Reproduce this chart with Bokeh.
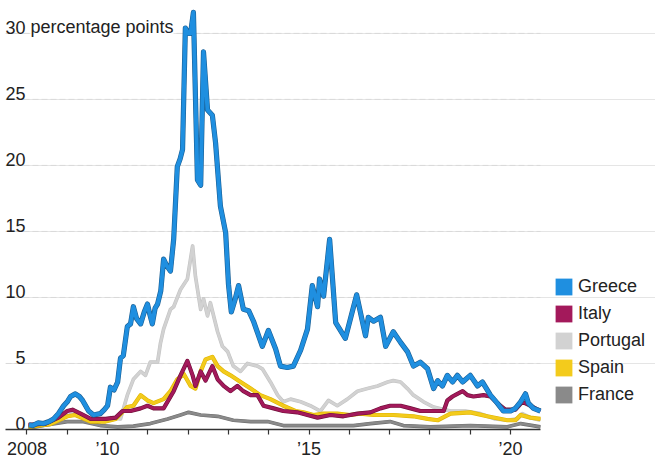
from bokeh.plotting import figure
from bokeh.models import Range1d, FixedTicker, Legend, LegendItem
from bokeh.core.properties import value
from bokeh.embed import file_html
from bokeh.resources import INLINE

FONT = "Liberation Sans"
NAN = float("nan")

# ---------------- data (decimal years, percentage points) ----------------
greece_t = [2008.05, 2008.14, 2008.28, 2008.41, 2008.55, 2008.66, 2008.78, 2008.91, 2009.00, 2009.08,
            2009.20, 2009.30, 2009.38, 2009.53, 2009.65, 2009.82, 2009.92, 2010.00, 2010.07, 2010.16,
            2010.25, 2010.32, 2010.39, 2010.49, 2010.57, 2010.64, 2010.72, 2010.82, 2010.91, 2010.99,
            2011.05, 2011.11, 2011.18, 2011.24, 2011.32, 2011.39, 2011.47, 2011.56, 2011.64, 2011.73,
            2011.80, 2011.86, 2011.93, 2012.00, 2012.06, 2012.13, 2012.23, 2012.31, 2012.38, 2012.48,
            2012.60, 2012.68, 2012.80, 2012.93, 2013.00, 2013.07, 2013.16, 2013.25, 2013.37, 2013.50,
            2013.62, 2013.84, 2013.99, 2014.17, 2014.29, 2014.46, 2014.61, 2014.79, 2014.96, 2015.08,
            2015.21, 2015.26, 2015.36, 2015.51, 2015.66, 2015.90, 2016.18, 2016.30, 2016.40, 2016.47,
            2016.60, 2016.77, 2016.90, 2017.09, 2017.27, 2017.44, 2017.59, 2017.76, 2017.94, 2018.09,
            2018.19, 2018.31, 2018.43, 2018.56, 2018.68, 2018.81, 2019.00, 2019.18, 2019.30, 2019.50,
            2019.67, 2019.82, 2020.00, 2020.12, 2020.25, 2020.37, 2020.44, 2020.57, 2020.74]
greece_v = [0.35, 0.3, 0.5, 0.45, 0.6, 0.8, 1.2, 1.8, 2.1, 2.5,
            2.7, 2.5, 2.2, 1.4, 1.1, 1.2, 1.5, 1.8, 3.2, 3.0,
            3.6, 5.4, 5.6, 7.8, 8.0, 9.3, 8.4, 8.0, 8.9, 9.5,
            8.7, 8.0, 9.2, 9.5, 10.5, 12.9, 12.4, 12.0, 14.4, 19.9,
            20.5, 21.2, 30.4, 30.0, 30.0, 31.6, 18.9, 18.5, 28.6, 24.2,
            23.8, 21.7, 16.9, 14.9, 11.0, 8.9, 9.8, 10.9, 9.1, 9.0,
            8.2, 6.3, 7.5, 6.1, 4.8, 4.7, 4.8, 6.0, 7.6, 10.9,
            9.3, 11.4, 10.1, 14.4, 8.1, 6.9, 10.2, 8.5, 7.1, 8.5,
            8.2, 8.5, 6.3, 7.4, 6.6, 5.9, 4.8, 5.1, 4.6, 3.1,
            3.7, 3.3, 4.1, 3.6, 4.1, 3.6, 4.1, 3.3, 3.6, 2.6,
            2.0, 1.4, 1.4, 1.6, 2.1, 2.7, 2.0, 1.6, 1.4]

italy_t = [2008.04, 2008.46, 2008.78, 2009.00, 2009.13, 2009.33, 2009.58, 2009.95, 2010.20, 2010.37,
           2010.57, 2010.82, 2010.99, 2011.14, 2011.39, 2011.64, 2011.81, 2011.98, 2012.11, 2012.18,
           2012.31, 2012.43, 2012.60, 2012.73, 2012.88, 2013.05, 2013.22, 2013.37, 2013.55, 2013.72,
           2013.87, 2014.12, 2014.36, 2014.71, 2014.96, 2015.21, 2015.53, 2015.85, 2016.20, 2016.52,
           2016.77, 2017.01, 2017.27, 2017.52, 2017.76, 2018.09, 2018.34, 2018.43, 2018.56, 2018.68,
           2018.81, 2018.93, 2019.08, 2019.33, 2019.50, 2019.67, 2019.87, 2020.12, 2020.29, 2020.49,
           2020.74]
italy_v = [0.35, 0.45, 0.9, 1.4, 1.5, 1.2, 0.8, 0.8, 0.9, 1.4,
           1.4, 1.6, 1.8, 1.6, 1.6, 2.9, 4.1, 5.2, 4.1, 3.3,
           4.4, 3.7, 4.8, 3.8, 3.3, 2.9, 3.3, 2.9, 2.6, 2.6,
           1.8, 1.6, 1.4, 1.3, 1.1, 0.9, 1.1, 1.0, 1.2, 1.3,
           1.6, 1.8, 1.8, 1.6, 1.4, 1.4, 1.4, 2.2, 2.5, 2.7,
           2.9, 2.6, 2.5, 2.6, 2.5, 2.0, 1.5, 1.5, 2.1, 1.8,
           1.4]

portugal_t = [2008.04, 2008.58, 2008.91, 2009.20, 2009.53, 2009.82, 2010.07, 2010.32, 2010.49, 2010.64,
              2010.82, 2010.94, 2011.06, 2011.24, 2011.31, 2011.39, 2011.56, 2011.64, 2011.81, 2011.98,
              2012.11, 2012.18, 2012.31, 2012.38, 2012.48, 2012.55, 2012.73, 2012.85, 2012.98, 2013.12,
              2013.30, 2013.47, 2013.72, 2013.84, 2014.04, 2014.22, 2014.36, 2014.54, 2014.79, 2015.03,
              2015.28, 2015.48, 2015.70, 2015.95, 2016.20, 2016.45, 2016.70, 2016.95, 2017.09, 2017.27,
              2017.44, 2017.59, 2017.84, 2018.09, 2018.51, 2018.88, 2019.25, 2019.62, 2019.92, 2020.17,
              2020.29, 2020.49, 2020.74]
portugal_v = [0.3, 0.4, 0.9, 1.3, 0.8, 0.6, 0.9, 0.8, 2.6, 3.8,
              4.4, 4.1, 5.1, 5.1, 6.5, 7.6, 9.1, 9.3, 10.6, 11.4,
              13.9, 11.6, 9.1, 9.9, 8.6, 9.6, 7.4, 6.3, 5.9, 4.8,
              4.4, 5.0, 4.8, 4.6, 3.6, 2.6, 2.1, 2.3, 2.1, 1.8,
              1.4, 2.2, 1.8, 2.3, 2.9, 3.1, 3.3, 3.6, 3.7, 3.6,
              3.1, 2.6, 2.1, 1.7, 1.4, 1.4, 1.2, 0.8, 0.7, 0.8,
              1.2, 0.9, 0.7]

spain_t = [2008.04, 2008.58, 2009.00, 2009.20, 2009.58, 2009.95, 2010.20, 2010.49, 2010.64, 2010.82,
           2010.99, 2011.14, 2011.39, 2011.56, 2011.73, 2011.89, 2012.06, 2012.18, 2012.31, 2012.43,
           2012.60, 2012.73, 2012.88, 2013.05, 2013.30, 2013.55, 2013.79, 2014.04, 2014.36, 2014.66,
           2014.86, 2015.11, 2015.36, 2015.70, 2016.02, 2016.27, 2016.60, 2017.09, 2017.59, 2017.94,
           2018.19, 2018.51, 2019.00, 2019.42, 2019.92, 2020.12, 2020.25, 2020.49, 2020.74]
spain_v = [0.2, 0.4, 1.0, 1.1, 0.6, 0.6, 0.8, 1.7, 1.8, 2.6,
           2.2, 2.0, 2.3, 2.9, 3.8, 4.2, 3.3, 3.1, 4.4, 5.3,
           5.5, 4.8, 4.4, 4.1, 3.6, 3.1, 2.6, 2.3, 1.8, 1.4,
           1.3, 1.1, 1.2, 1.2, 1.1, 1.2, 1.1, 1.1, 1.0, 0.8,
           0.7, 1.2, 1.3, 1.0, 0.7, 0.7, 1.1, 0.9, 0.8]

france_t = [2008.04, 2008.41, 2009.00, 2009.40, 2009.82, 2010.25, 2010.64, 2011.06, 2011.49, 2011.81,
            2012.01, 2012.31, 2012.73, 2013.12, 2013.55, 2013.97, 2014.36, 2014.79, 2015.28, 2016.10,
            2016.52, 2017.01, 2017.34, 2018.01, 2019.00, 2019.92, 2020.25, 2020.74]
france_v = [0.1, 0.3, 0.6, 0.6, 0.3, 0.2, 0.25, 0.45, 0.8, 1.1,
            1.3, 1.1, 1.0, 0.7, 0.6, 0.6, 0.3, 0.3, 0.3, 0.3,
            0.45, 0.6, 0.3, 0.2, 0.3, 0.2, 0.45, 0.2]

countries = ["Greece", "Italy", "Portugal", "Spain", "France"]
colors = ["#1f8fe0", "#a3195b", "#d2d2d2", "#f3cb1c", "#8a8a8a"]
edge_colors = ["#1a5f94", "#6e1038", "#c4c4c4", "#e0b400", "#6f6f6f"]

ytick_values = [0, 5, 10, 15, 20, 25, 30]
ytick_labels = ["0", "5", "10", "15", "20", "25", "30"]
y_unit = "percentage points"

xtick_years = list(range(2008, 2021))
xtick_labels = {2008: "2008", 2010: "\u201910", 2015: "\u201915", 2020: "\u201920"}

x_start, x_data_end = 2007.467, 2020.742   # plotted span of the chart area
x_end = 2023.596                            # extra room on the right for the key

# ---------------- figure ----------------
W, H = 655, 461
p = figure(width=W, height=H, output_backend="svg", toolbar_location=None,
           x_range=Range1d(x_start, x_end), y_range=Range1d(0, 32.49),
           y_axis_location=None, min_border_left=5, min_border_right=0,
           min_border_top=0, min_border_bottom=30)
p.outline_line_color = None
p.xgrid.visible = False
p.background_fill_color = "white"

# horizontal gridlines limited to the chart area
grid_y = ytick_values[1:]
p.segment(x0=[x_start] * len(grid_y), x1=[x_data_end] * len(grid_y), y0=grid_y, y1=grid_y,
          line_color="#d9d9d9", line_dash="6 3", line_width=1)

ax = p.xaxis[0]
ax.ticker = FixedTicker(ticks=xtick_years)
ax.major_label_overrides = {y: xtick_labels.get(y, "") for y in xtick_years}
ax.bounds = (x_start, x_data_end)
ax.axis_line_color = "#333333"
ax.axis_line_width = 1.5
ax.major_tick_line_color = "#333333"
ax.major_tick_line_width = 1.2
ax.major_tick_out = 5
ax.major_tick_in = 0
ax.minor_tick_line_color = None
ax.major_label_standoff = 4
ax.major_label_text_font = FONT
ax.major_label_text_font_size = "18px"
ax.major_label_text_color = "#222222"

# y tick labels, right-aligned numbers drawn over the plot area
p.text(x=[x_start] * len(ytick_values), y=ytick_values, text=ytick_labels,
       text_font=value(FONT), text_font_size="18px", text_color="#222222",
       text_align="right", text_baseline="alphabetic", x_offset=20, y_offset=-6)
p.text(x=[x_start], y=[ytick_values[-1]], text=[y_unit],
       text_font=value(FONT), text_font_size="18px", text_color="#222222",
       text_align="left", text_baseline="alphabetic", x_offset=25, y_offset=-6,
       background_fill_color="white")

series = {
    "Greece": (greece_t, greece_v, 4.0),
    "Italy": (italy_t, italy_v, 3.0),
    "Portugal": (portugal_t, portugal_v, 2.5),
    "Spain": (spain_t, spain_v, 3.0),
    "France": (france_t, france_v, 2.5),
}
draw_order = ["Portugal", "France", "Spain", "Italy", "Greece"]
for name in draw_order:
    t, v, w = series[name]
    i = countries.index(name)
    p.line(t, v, line_color=edge_colors[i], line_width=w + 1.2, line_join="round")
    p.line(t, v, line_color=colors[i], line_width=w, line_join="round")

# key: square swatches (proxy glyphs that draw nothing in the plot area)
items = []
for name, c in zip(countries, colors):
    r = p.quad(left=[NAN], right=[NAN], top=[NAN], bottom=[NAN], fill_color=c, line_color=None)
    items.append(LegendItem(label=name, renderers=[r]))

legend = Legend(items=items, location=(548, 24), orientation="vertical",
                glyph_width=21, glyph_height=21, label_height=21, spacing=6,
                padding=0, margin=0, label_standoff=4,
                border_line_color=None, background_fill_alpha=0,
                label_text_font=FONT, label_text_font_size="18px",
                label_text_color="#222222")
p.add_layout(legend)

open("out.html", "w").write(file_html(p, INLINE))
